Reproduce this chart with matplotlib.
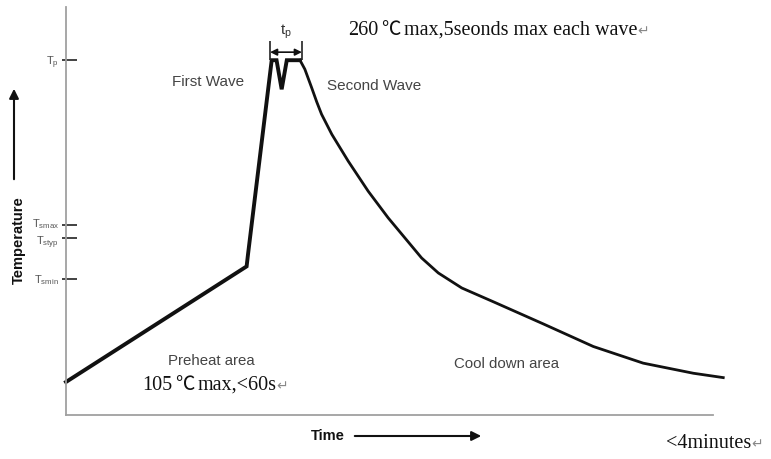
import matplotlib
matplotlib.use("Agg")
import matplotlib.pyplot as plt
import matplotlib.transforms as mtransforms
from matplotlib.patches import FancyArrowPatch

# wave soldering profile, time in s, temperature in degC
time_rise = [0.0, 67.0, 67.5, 76.3, 78.1, 80.0, 81.9, 86.8]
temp_rise = [24.2, 108.9, 117.5, 260.0, 260.0, 238.7, 260.0, 260.0]
time_cool = [86.8, 88.6, 91.1, 93.0, 94.8, 98.6, 104.7, 112.1, 119.5, 125.7, 131.9,
             138.1, 146.8, 158.5, 177.0, 195.6, 214.1, 232.7, 243.8]
temp_cool = [260.0, 253.4, 240.0, 229.5, 220.4, 205.7, 186.0, 164.0, 144.5, 129.8, 115.1,
             104.1, 93.1, 83.0, 66.8, 50.2, 38.0, 30.6, 27.4]

tick_temps = [260.0, 139.6, 130.0, 100.0]
tick_labels = [r"$\mathrm{T_p}$", r"$\mathrm{T_{smax}}$", r"$\mathrm{T_{styp}}$", r"$\mathrm{T_{smin}}$"]
tp_start, tp_end = 75.7, 87.5

W, H = 771, 459
plt.rcParams["mathtext.fontset"] = "custom"
plt.rcParams["mathtext.rm"] = "Liberation Sans"

fig = plt.figure(figsize=(W / 100, H / 100), dpi=100)
ax = fig.add_axes([66 / W, 1 - 415 / H, 647 / W, 408 / H])
ax.set_xlim(0, 240)
ax.set_ylim(0, 299)


def fx(px):
    return px / W


def fy(py):
    return 1 - py / H


ax.plot(time_rise, temp_rise, color="#111111", lw=2.8, solid_joinstyle="miter", clip_on=False)
ax.plot(time_cool, temp_cool, color="#111111", lw=2.0, solid_joinstyle="round", clip_on=False)

for s in ["top", "right"]:
    ax.spines[s].set_visible(False)
for s in ["left", "bottom"]:
    ax.spines[s].set_color("#a0a0a0")
    ax.spines[s].set_linewidth(1.3)

ax.set_xticks([])
ax.set_yticks(tick_temps)
ax.set_yticklabels(tick_labels, fontsize=8, color="#555555")
ax.tick_params(axis="y", length=0, pad=5)
# the two close labels are nudged apart a little
for lab, dy in zip(ax.get_yticklabels(), [0, 2, -1.5, 0]):
    lab.set_transform(lab.get_transform() +
                      mtransforms.ScaledTranslation(0, dy / 72, fig.dpi_scale_trans))
ax.hlines(tick_temps, -4 / 647, 11 / 647, transform=ax.get_yaxis_transform(),
          color="#222222", lw=1.2, clip_on=False)

# t_p marker
ax.vlines([tp_start, tp_end], 260, 274, color="#222222", lw=1.2, clip_on=False)
ax.annotate("", xy=(tp_start, 265.9), xytext=(tp_end, 265.9),
            arrowprops=dict(arrowstyle="<|-|>", color="#111111", lw=1.2,
                            mutation_scale=10, shrinkA=0, shrinkB=0))
ax.text((tp_start + tp_end) / 2, 281, r"$\mathrm{t_p}$", fontsize=11,
        color="#333333", ha="center", va="center")

sans = "Liberation Sans"
serif = "Liberation Serif"
cjk = "Noto Sans CJK SC"
renderer = fig.canvas.get_renderer()


def chain(px, py, pieces):
    # pieces: (text, family, size, color, gap after in px) on one baseline
    x = px
    for txt, fam, size, col, gap in pieces:
        t = fig.text(fx(x), fy(py), txt, fontsize=size, family=fam, color=col,
                     ha="left", va="baseline")
        x = t.get_window_extent(renderer).x1 + gap


ret = ("\u21b5", "DejaVu Sans", 10, "#888888", 0)
chain(348, 35, [("260", serif, 14.5, "#111111", 3), ("℃", cjk, 14, "#111111", 3),
                ("max,5seonds max each wave", serif, 14.5, "#111111", 0), ret])
chain(142, 390, [("105", serif, 14.5, "#111111", 3), ("℃", cjk, 14, "#111111", 3),
                 ("max,<60s", serif, 14.5, "#111111", 0), ret])
chain(666, 448, [("<4minutes", serif, 14.5, "#111111", 0), ret])

fig.text(fx(208), fy(82), "First Wave", fontsize=11, family=sans, color="#444444",
         ha="center", va="center")
fig.text(fx(374), fy(86), "Second Wave", fontsize=11, family=sans, color="#444444",
         ha="center", va="center")
fig.text(fx(211), fy(361), "Preheat area", fontsize=10.8, family=sans, color="#444444",
         ha="center", va="center")
fig.text(fx(506), fy(364), "Cool down area", fontsize=10.8, family=sans, color="#444444",
         ha="center", va="center")

fig.text(fx(19), fy(240), "Temperature", fontsize=10.5, family=sans, weight="bold",
         rotation=90, ha="center", va="center", color="#111111")
fig.text(fx(328), fy(436), "Time", fontsize=10.5, family=sans, weight="bold",
         ha="center", va="center", color="#111111")

fig.add_artist(FancyArrowPatch(
    (fx(352), fy(436)), (fx(484), fy(436)), transform=fig.transFigure,
    arrowstyle="-|>", mutation_scale=14, color="#111111", lw=1.5))
fig.add_artist(FancyArrowPatch(
    (fx(14), fy(182)), (fx(14), fy(86)), transform=fig.transFigure,
    arrowstyle="-|>", mutation_scale=14, color="#111111", lw=1.5))

fig.savefig("out.png", dpi=100)
